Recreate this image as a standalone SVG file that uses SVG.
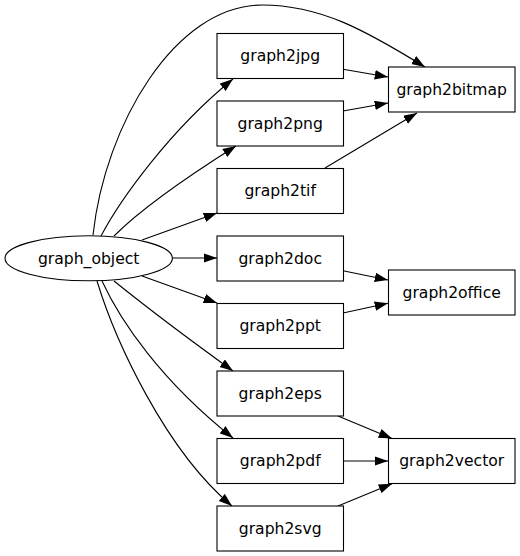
<svg xmlns="http://www.w3.org/2000/svg" width="520" height="556" viewBox="0 0 520 556">
<defs>
<marker id="arr" markerUnits="userSpaceOnUse" markerWidth="14" markerHeight="10" refX="13.3" refY="4.7" orient="auto">
<path d="M0,0 L13.3,4.7 L0,9.4 z" fill="#000"/>
</marker>
<style>
.n rect, .n ellipse { fill: #fff; stroke: #000; stroke-width: 1.1; }
.n text { font-family: "DejaVu Sans", sans-serif; font-size: 15.6px; text-anchor: middle; fill: #000; }
.e path { fill: none; stroke: #000; stroke-width: 1.1; marker-end: url(#arr); }
</style>
</defs>
<rect width="520" height="556" fill="#fff"/>
<g id="edges" class="e">
<path d="M93,235 C105,125 175,5 262,5 C320,5 365,30 425,67"/>
<path d="M101,236 C120,200 170,130 233,79"/>
<path d="M114,236 C140,210 190,175 236,146"/>
<path d="M142,240 L217,213"/>
<path d="M172,258 L217,258"/>
<path d="M142,276 L217,303"/>
<path d="M114,281 C150,310 190,340 233,371"/>
<path d="M102,281 C120,320 160,380 233,438"/>
<path d="M97,281 C115,340 165,450 232,506"/>
<path d="M343,69.3 L388,77"/>
<path d="M343,111 L388,103"/>
<path d="M325,168 L417,113"/>
<path d="M343,270.7 L388,280"/>
<path d="M343,313 L388,303.3"/>
<path d="M338,416 L392,438.5"/>
<path d="M343,461 L388,461"/>
<path d="M338,506 L392,483.7"/>
</g>
<g id="graph_object" class="n"><ellipse cx="88.7" cy="258.3" rx="83.7" ry="22.5"/><text x="88.7" y="263.8">graph_object</text></g>
<g id="graph2jpg" class="n"><rect x="217" y="33.5" width="126.5" height="45"/><text x="280.2" y="61.3">graph2jpg</text></g>
<g id="graph2png" class="n"><rect x="217" y="101" width="126.5" height="45"/><text x="280.2" y="128.8">graph2png</text></g>
<g id="graph2tif" class="n"><rect x="217" y="168.5" width="126.5" height="45"/><text x="280.2" y="196.3">graph2tif</text></g>
<g id="graph2doc" class="n"><rect x="217" y="236" width="126.5" height="45"/><text x="280.2" y="263.8">graph2doc</text></g>
<g id="graph2ppt" class="n"><rect x="217" y="303.5" width="126.5" height="45"/><text x="280.2" y="331.3">graph2ppt</text></g>
<g id="graph2eps" class="n"><rect x="217" y="371" width="126.5" height="45"/><text x="280.2" y="398.8">graph2eps</text></g>
<g id="graph2pdf" class="n"><rect x="217" y="438.5" width="126.5" height="45"/><text x="280.2" y="466.3">graph2pdf</text></g>
<g id="graph2svg" class="n"><rect x="217" y="506" width="126.5" height="45"/><text x="280.2" y="533.8">graph2svg</text></g>
<g id="graph2bitmap" class="n"><rect x="388.5" y="67" width="126.5" height="45"/><text x="451.7" y="94.8">graph2bitmap</text></g>
<g id="graph2office" class="n"><rect x="388.5" y="270" width="126.5" height="45"/><text x="451.7" y="297.8">graph2office</text></g>
<g id="graph2vector" class="n"><rect x="388.5" y="438.5" width="126.5" height="45"/><text x="451.7" y="466.3">graph2vector</text></g>
</svg>
